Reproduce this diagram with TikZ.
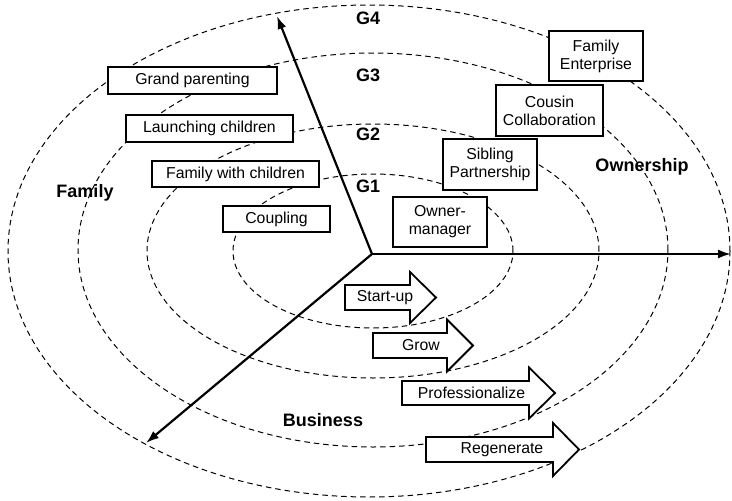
\documentclass[tikz,border=0pt]{standalone}
\usepackage{fontspec}
\setmainfont{Liberation Sans}
\usetikzlibrary{arrows.meta}
\newcommand{\boxfont}{\fontsize{15.8}{18}\selectfont}
\newcommand{\labfont}{\fontsize{18}{20}\selectfont\bfseries}
\begin{document}
\begin{tikzpicture}[x=1pt,y=-1pt,
  ring/.style={dashed, dash pattern=on 5.5pt off 4pt, line width=1pt},
  axis/.style={line width=2.2pt, -{Latex[length=13pt,width=9pt]}},
  stagebox/.style={draw, line width=1.8pt, fill=white, inner sep=0pt, align=center, font=\boxfont},
  barrow/.style={draw, line width=1.8pt, fill=white, line join=miter},
  lab/.style={font=\labfont, inner sep=0pt},
  txt/.style={font=\boxfont, inner sep=0pt}]
\useasboundingbox (0,0) rectangle (732,501);
\fill[white] (0,0) rectangle (732,501);
% rings
\draw[ring] (373,251) ellipse [x radius=140pt, y radius=77pt];
\draw[ring] (373,251) ellipse [x radius=226pt, y radius=127pt];
\draw[ring] (373,250) ellipse [x radius=295pt, y radius=197pt];
\draw[ring] (369,251) ellipse [x radius=361pt, y radius=246pt];
% axes
\coordinate (O) at (372,254);
\coordinate (up) at (277,16);
\coordinate (right) at (731,254);
\coordinate (dl) at (146,443);
\draw[axis] (O) -- (up);
\draw[axis] (O) -- (right);
\draw[axis] (O) -- (dl);
% generation labels
\node[lab, anchor=west] (g4) at (356,18) {G4};
\node[lab, anchor=west] (g3) at (356,75) {G3};
\node[lab, anchor=west] (g2) at (356,134) {G2};
\node[lab, anchor=west] (g1) at (356,186) {G1};
% dimension labels
\node[lab] (family) at (85,193) {Family};
\node[lab] (ownership) at (642,167) {Ownership};
\node[lab] (business) at (323,420) {Business};
% family boxes
\node[stagebox, minimum width=169pt, minimum height=27pt] (gp) at (192.5,80.5) {Grand parenting};
\node[stagebox, minimum width=167pt, minimum height=27pt] (lc) at (209.5,128.5) {Launching children};
\node[stagebox, minimum width=167pt, minimum height=26pt] (fwc) at (235.5,174) {Family with children};
\node[stagebox, minimum width=107pt, minimum height=26pt] (cp) at (276.5,219) {Coupling};
% ownership boxes
\node[stagebox, minimum width=94pt, minimum height=50pt] (fe) at (596,56) {Family\\Enterprise};
\node[stagebox, minimum width=107pt, minimum height=51pt] (cc) at (549.5,110.5) {Cousin\\Collaboration};
\node[stagebox, minimum width=94pt, minimum height=51pt] (sp) at (490,164.5) {Sibling\\Partnership};
\node[stagebox, minimum width=94pt, minimum height=50pt] (om) at (440,222) {Owner-\\manager};
% business arrows
\draw[barrow] (345,285) -- (410,285) -- (410,272) -- (436,297.5) -- (410,323) -- (410,310) -- (345,310) -- cycle;
\node[txt] (su) at (385,297.5) {Start-up};
\draw[barrow] (373,333) -- (447,333) -- (447,319.5) -- (473,345.5) -- (447,371.5) -- (447,358) -- (373,358) -- cycle;
\node[txt] (gr) at (421,345.5) {Grow};
\draw[barrow] (402,381) -- (529,381) -- (529,367.5) -- (555,393) -- (529,418.5) -- (529,405) -- (402,405) -- cycle;
\node[txt] (pr) at (471.5,393) {Professionalize};
\draw[barrow] (426,437) -- (553,437) -- (553,423) -- (579,449.5) -- (553,476) -- (553,462) -- (426,462) -- cycle;
\node[txt] (rg) at (502,449.5) {Regenerate};
\end{tikzpicture}
\end{document}
